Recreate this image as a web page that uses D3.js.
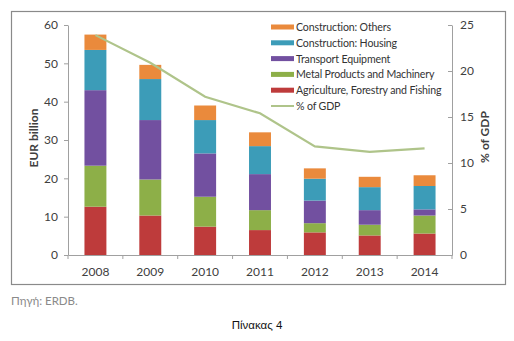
<!DOCTYPE html>
<html>
<head>
<meta charset="utf-8">
<script src="https://cdn.jsdelivr.net/npm/d3@7"></script>
<style>
  body { margin: 0; background: #fff; }
  svg { display: block; }
</style>
</head>
<body>
<script>
const years = ['2008', '2009', '2010', '2011', '2012', '2013', '2014']
const agriculture = [12.6, 10.3, 7.4, 6.5, 5.9, 5.1, 5.6]
const metal = [10.7, 9.4, 7.8, 5.2, 2.4, 2.8, 4.7]
const transport = [19.7, 15.5, 11.3, 9.4, 5.9, 3.8, 1.6]
const housing = [10.5, 10.7, 8.7, 7.3, 5.7, 6.0, 6.1]
const others = [4.0, 3.7, 3.8, 3.6, 2.7, 2.7, 2.8]
const gdpShare = [23.9, 20.9, 17.2, 15.4, 11.8, 11.2, 11.6]

const seriesNames = ['Agriculture, Forestry and Fishing', 'Metal Products and Machinery',
  'Transport Equipment', 'Construction: Housing', 'Construction: Others']
const seriesValues = [agriculture, metal, transport, housing, others]
const colors = ['#BE3B3B', '#8DAF48', '#7250A0', '#3C9CB8', '#EA8A3C']
const lineColor = '#AFC48A'
const leftTicks = [0, 10, 20, 30, 40, 50, 60]
const rightTicks = [0, 5, 10, 15, 20, 25]

const width = 514
const height = 341
const font = 'Lato, "Open Sans", sans-serif'
const margin = { top: 25, right: 62, bottom: 86, left: 68 }
const plotW = width - margin.left - margin.right
const plotH = height - margin.top - margin.bottom

const svg = d3.select('body').append('svg')
  .attr('width', width)
  .attr('height', height)

// Frame
svg.append('rect')
  .attr('x', 11.5).attr('y', 11.5)
  .attr('width', 494).attr('height', 273)
  .attr('fill', 'none')
  .attr('stroke', '#8a8a8a')
  .attr('stroke-width', 1.2)

const g = svg.append('g').attr('transform', `translate(${margin.left},${margin.top})`)

const x = d3.scaleBand().domain(years).range([0, plotW]).paddingInner(0.6).paddingOuter(0.3)
const yL = d3.scaleLinear().domain([0, 60]).range([plotH, 0])
const yR = d3.scaleLinear().domain([0, 25]).range([plotH, 0])

// Stacked data
const rows = years.map((yr, i) => {
  const r = { year: yr }
  seriesNames.forEach((s, k) => { r[s] = seriesValues[k][i] })
  return r
})
const stacked = d3.stack().keys(seriesNames)(rows)

g.selectAll('g.layer')
  .data(stacked)
  .join('g')
  .attr('class', 'layer')
  .attr('fill', (_, i) => colors[i])
  .selectAll('rect')
  .data(d => d)
  .join('rect')
  .attr('x', d => x(d.data.year))
  .attr('width', x.bandwidth())
  .attr('y', d => yL(d[1]))
  .attr('height', d => yL(d[0]) - yL(d[1]))

// Line
const line = d3.line()
  .x((_, i) => x(years[i]) + x.bandwidth() / 2)
  .y(d => yR(d))
g.append('path')
  .datum(gdpShare)
  .attr('d', line)
  .attr('fill', 'none')
  .attr('stroke', lineColor)
  .attr('stroke-width', 2.2)

// Axes
const styleAxis = sel => {
  sel.selectAll('.domain').attr('stroke', '#a0a0a0')
  sel.selectAll('.tick line').attr('stroke', '#a0a0a0')
  sel.selectAll('text')
    .attr('font-family', font)
    .attr('font-size', 12)
    .attr('fill', '#404040')
}

g.append('g')
  .call(d3.axisLeft(yL).tickValues(leftTicks).tickSize(4).tickSizeOuter(0).tickPadding(6))
  .call(styleAxis)

g.append('g')
  .attr('transform', `translate(${plotW},0)`)
  .call(d3.axisRight(yR).tickValues(rightTicks).tickSize(-4).tickSizeOuter(0).tickPadding(8))
  .call(styleAxis)

const xAxis = g.append('g')
  .attr('transform', `translate(0,${plotH})`)
  .call(d3.axisBottom(x).tickSize(0).tickPadding(12))
  .call(styleAxis)

// Category separators on x axis
const step = x.step()
xAxis.selectAll('line.sep')
  .data(d3.range(years.length + 1))
  .join('line')
  .attr('class', 'sep')
  .attr('x1', i => i * step)
  .attr('x2', i => i * step)
  .attr('y1', 0)
  .attr('y2', 4)
  .attr('stroke', '#a0a0a0')

// Axis titles
g.append('text')
  .attr('transform', 'rotate(-90)')
  .attr('x', -plotH / 2 + 2)
  .attr('y', -30)
  .attr('text-anchor', 'middle')
  .attr('font-family', font)
  .attr('font-size', 12)
  .attr('font-weight', 'bold')
  .attr('fill', '#404040')
  .text('EUR billion')

g.append('text')
  .attr('transform', 'rotate(-90)')
  .attr('x', -112)
  .attr('y', plotW + 37)
  .attr('text-anchor', 'middle')
  .attr('font-family', font)
  .attr('font-size', 12)
  .attr('font-weight', 'bold')
  .attr('fill', '#404040')
  .text('% of GDP')

// Legend
const legendItems = [
  { name: 'Construction: Others', color: colors[4], type: 'bar' },
  { name: 'Construction: Housing', color: colors[3], type: 'bar' },
  { name: 'Transport Equipment', color: colors[2], type: 'bar' },
  { name: 'Metal Products and Machinery', color: colors[1], type: 'bar' },
  { name: 'Agriculture, Forestry and Fishing', color: colors[0], type: 'bar' },
  { name: '% of GDP', color: lineColor, type: 'line' }
]
const legend = svg.append('g').attr('transform', 'translate(271,27)')
const item = legend.selectAll('g')
  .data(legendItems)
  .join('g')
  .attr('transform', (_, i) => `translate(0,${i * 15.8})`)
item.append('rect')
  .attr('x', 0)
  .attr('y', d => d.type === 'bar' ? -2.5 : -1)
  .attr('width', 23)
  .attr('height', d => d.type === 'bar' ? 5 : 2)
  .attr('fill', d => d.color)
item.append('text')
  .attr('x', 25)
  .attr('y', 4)
  .attr('font-family', font)
  .attr('font-size', 10.6)
  .attr('letter-spacing', -0.15)
  .attr('fill', '#333')
  .text(d => d.name)

// Footnotes
svg.append('text')
  .attr('x', 11)
  .attr('y', 305)
  .attr('font-family', font)
  .attr('font-size', 11.5)
  .attr('fill', '#8a8a8a')
  .text('Πηγή: ERDB.')

svg.append('text')
  .attr('x', 257)
  .attr('y', 329)
  .attr('text-anchor', 'middle')
  .attr('font-family', '"Liberation Sans", sans-serif')
  .attr('font-size', 11.5)
  .attr('fill', '#111')
  .text('Πίνακας 4')
</script>
</body>
</html>
